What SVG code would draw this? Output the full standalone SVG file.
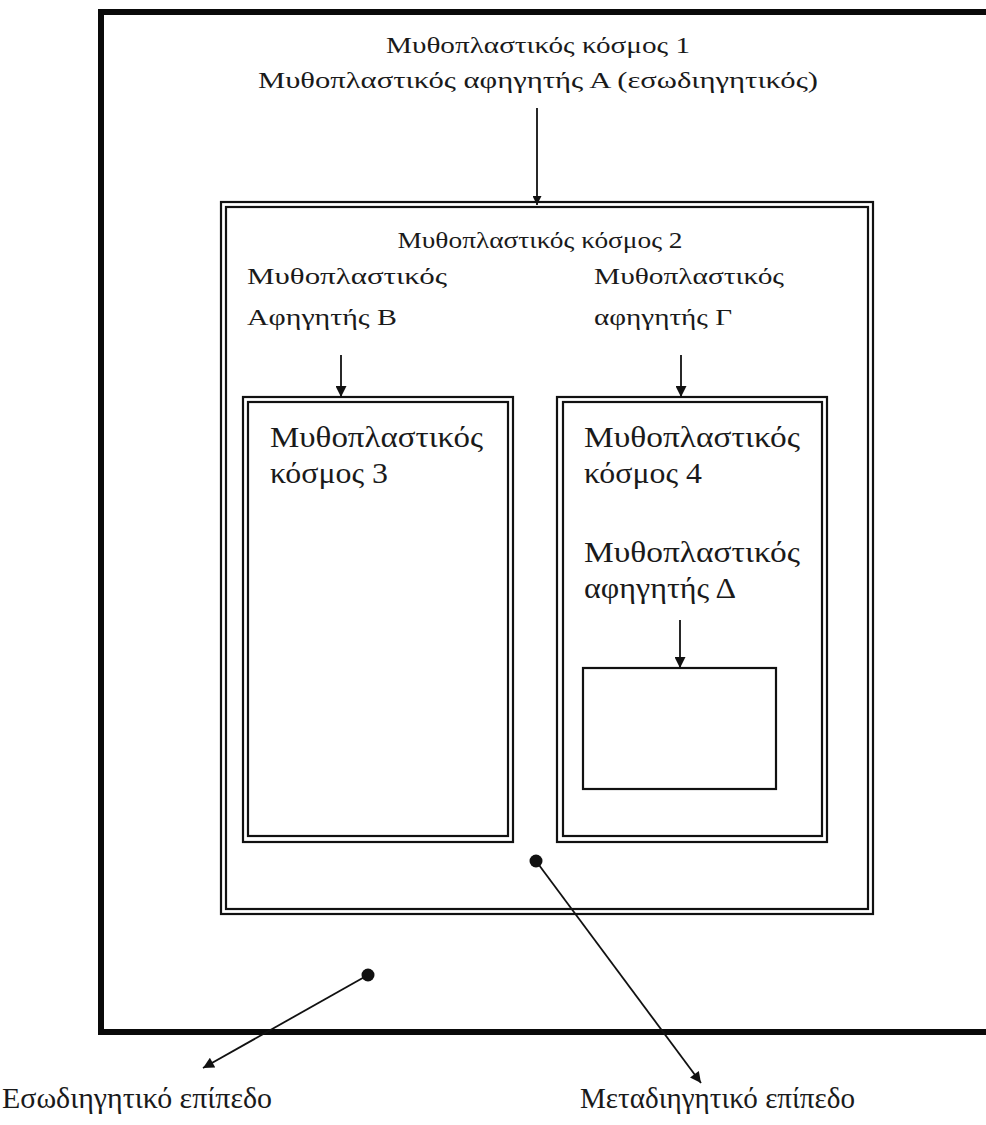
<svg xmlns="http://www.w3.org/2000/svg" width="986" height="1125" viewBox="0 0 986 1125">
<defs>
<style>
.t{font-family:"Liberation Serif","DejaVu Serif",serif;fill:#1a1a1a}
.s{font-size:24px}
.l{font-size:29px}
.b{font-size:30px}
.ln{stroke:#111;fill:none}
.box{stroke:#111;stroke-width:2.2;fill:none}
</style>
<marker id="ah" viewBox="0 0 10 10" refX="10" refY="5" markerWidth="10" markerHeight="9" markerUnits="userSpaceOnUse" orient="auto">
<path d="M0,0 L10,5 L0,10 z" fill="#111"/>
</marker>
<marker id="ah2" viewBox="0 0 10 10" refX="10" refY="5" markerWidth="14" markerHeight="11" markerUnits="userSpaceOnUse" orient="auto">
<path d="M0,0 L10,5 L0,10 z" fill="#111"/>
</marker>
</defs>
<rect width="986" height="1125" fill="#fff"/>

<g id="world1">
<path d="M986,12 H101 V1032 H986" stroke="#0a0a0a" stroke-width="6" fill="none"/>
<text class="t s" x="538" y="53" text-anchor="middle" textLength="304" lengthAdjust="spacingAndGlyphs">Μυθοπλαστικός κόσμος 1</text>
<text class="t s" x="538" y="88" text-anchor="middle" textLength="560" lengthAdjust="spacingAndGlyphs">Μυθοπλαστικός αφηγητής Α (εσωδιηγητικός)</text>
</g>

<g id="world2">
<rect class="box" x="221" y="202" width="652" height="712"/>
<rect class="box" x="226" y="207" width="642" height="702"/>
<text class="t s" x="540" y="248" text-anchor="middle" textLength="285" lengthAdjust="spacingAndGlyphs">Μυθοπλαστικός κόσμος 2</text>
<text class="t s" x="247" y="284" textLength="200" lengthAdjust="spacingAndGlyphs">Μυθοπλαστικός</text>
<text class="t s" x="247" y="325" textLength="150" lengthAdjust="spacingAndGlyphs">Αφηγητής Β</text>
<text class="t s" x="594" y="284" textLength="190" lengthAdjust="spacingAndGlyphs">Μυθοπλαστικός</text>
<text class="t s" x="594" y="325" textLength="138" lengthAdjust="spacingAndGlyphs">αφηγητής Γ</text>
</g>

<g id="world3">
<rect class="box" x="243" y="397" width="270" height="445"/>
<rect class="box" x="248" y="402" width="260" height="434"/>
<text class="t l" x="270" y="447" textLength="213" lengthAdjust="spacingAndGlyphs">Μυθοπλαστικός</text>
<text class="t l" x="270" y="483" textLength="118" lengthAdjust="spacingAndGlyphs">κόσμος 3</text>
</g>

<g id="world4">
<rect class="box" x="557" y="397" width="270" height="445"/>
<rect class="box" x="563" y="402" width="259" height="434"/>
<text class="t l" x="584" y="447" textLength="216" lengthAdjust="spacingAndGlyphs">Μυθοπλαστικός</text>
<text class="t l" x="584" y="483" textLength="118" lengthAdjust="spacingAndGlyphs">κόσμος 4</text>
<text class="t l" x="584" y="562" textLength="216" lengthAdjust="spacingAndGlyphs">Μυθοπλαστικός</text>
<text class="t l" x="584" y="598" textLength="152" lengthAdjust="spacingAndGlyphs">αφηγητής Δ</text>
</g>

<g id="world5">
<rect class="box" x="583" y="668" width="193" height="121"/>
</g>

<g id="label-intra">
<text class="t b" x="2" y="1108" textLength="270" lengthAdjust="spacingAndGlyphs">Εσωδιηγητικό επίπεδο</text>
</g>
<g id="label-meta">
<text class="t b" x="580" y="1108" textLength="275" lengthAdjust="spacingAndGlyphs">Μεταδιηγητικό επίπεδο</text>
</g>

<g id="connectors">
<line class="ln" stroke-width="1.8" x1="537" y1="108" x2="537" y2="205" marker-end="url(#ah)"/>
<line class="ln" stroke-width="1.8" x1="341" y1="355" x2="341" y2="397" marker-end="url(#ah2)"/>
<line class="ln" stroke-width="1.8" x1="681" y1="355" x2="681" y2="397" marker-end="url(#ah2)"/>
<line class="ln" stroke-width="1.8" x1="680" y1="620" x2="680" y2="668" marker-end="url(#ah2)"/>
<circle cx="536" cy="861" r="6.5" fill="#111"/>
<line class="ln" stroke-width="1.8" x1="536" y1="861" x2="701" y2="1083" marker-end="url(#ah2)"/>
<circle cx="368" cy="975" r="6.5" fill="#111"/>
<line class="ln" stroke-width="1.8" x1="368" y1="975" x2="203" y2="1068" marker-end="url(#ah2)"/>
</g>
</svg>
